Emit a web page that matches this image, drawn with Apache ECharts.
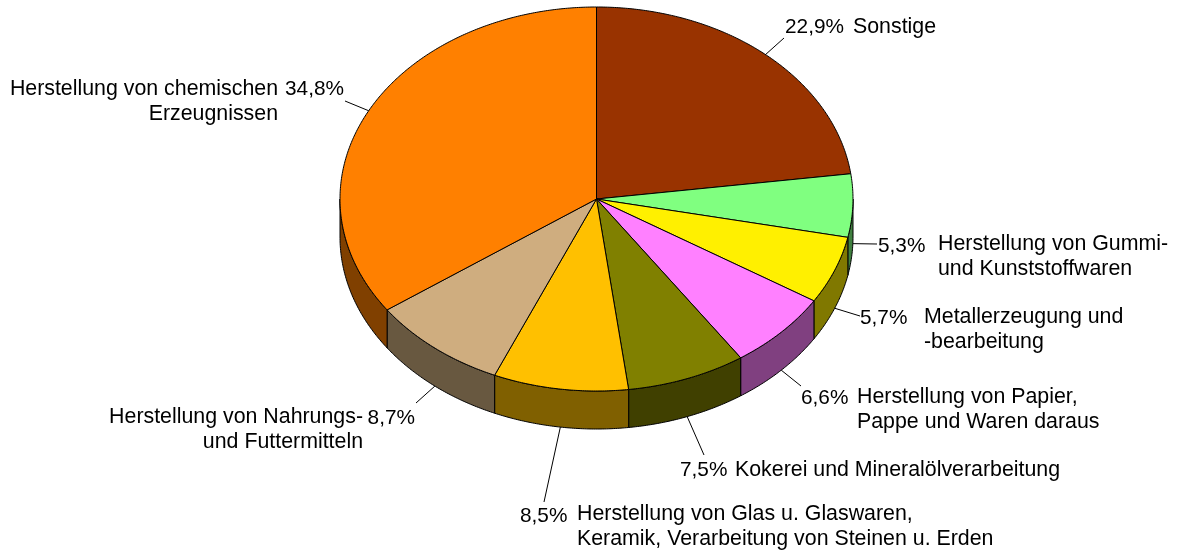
<!DOCTYPE html>
<html>
<head>
<meta charset="utf-8">
<style>html,body{margin:0;padding:0;background:#fff}#c{width:1177px;height:553px}</style>
<script src="https://cdn.jsdelivr.net/npm/echarts@6/dist/echarts.min.js"></script>
</head>
<body>
<div id="c"></div>
<script>
// Data, clockwise from 12 o'clock
const categories = [
  ['Sonstige'],
  ['Herstellung von Gummi-', 'und Kunststoffwaren'],
  ['Metallerzeugung und', '-bearbeitung'],
  ['Herstellung von Papier,', 'Pappe und Waren daraus'],
  ['Kokerei und Mineralölverarbeitung'],
  ['Herstellung von Glas u. Glaswaren,', 'Keramik, Verarbeitung von Steinen u. Erden'],
  ['Herstellung von Nahrungs-', 'und Futtermitteln'],
  ['Herstellung von chemischen', 'Erzeugnissen']
];
const values = [22.9, 5.3, 5.7, 6.6, 7.5, 8.5, 8.7, 34.8];
const topColors = ['#993300', '#80FF80', '#FFF000', '#FF80FF', '#808000', '#FFC000', '#CFAD7F', '#FF8000'];
const sideColors = ['#4D1A00', '#408040', '#807800', '#804080', '#404000', '#806000', '#685840', '#804000'];

// Layout (label anchors, leader ends), separate from the values
const pie = { cx: 596.5, cy: 199, rx: 256.5, ry: 192, depth: 38 };
const leaderEnds = [[784, 38], [877, 244], [860, 316], [801, 386], [704, 455], [544, 502], [416, 403], [345, 101]];
const pctPos = [[785, 27, 'left'], [878, 246, 'left'], [860, 318, 'left'], [801, 398, 'left'], [680, 470, 'left'], [520, 516, 'left'], [415, 418, 'right'], [344, 89, 'right']];
const namePos = [[853, 27, 'left'], [938, 244, 'left'], [924, 317, 'left'], [857, 397, 'left'], [735, 470, 'left'], [577, 514, 'left'], [363, 417, 'right'], [278, 89, 'right']];
const lineStep = 25;
const family = '"Liberation Sans", Arial, sans-serif';
const nameFont = '21.35px ' + family;
const pctFont = '20.8px ' + family;

const total = values.reduce((a, b) => a + b, 0);
function pt(t, dy) {
  return [pie.cx + pie.rx * Math.sin(t), pie.cy - pie.ry * Math.cos(t) + (dy || 0)];
}
function arc(t0, t1, dy) {
  const n = Math.max(2, Math.ceil(Math.abs(t1 - t0) / (Math.PI / 360)));
  const out = [];
  for (let i = 0; i <= n; i++) out.push(pt(t0 + (t1 - t0) * i / n, dy));
  return out;
}

function renderItem(params, api) {
  const i = params.dataIndex;
  const v = api.value(0);
  let before = 0;
  for (let k = 0; k < i; k++) before += values[k];
  const t0 = before / total * 2 * Math.PI;
  const t1 = (before + v) / total * 2 * Math.PI;
  const mid = (t0 + t1) / 2;
  const children = [];
  const stroke = { stroke: '#000', lineWidth: 1, lineJoin: 'round' };

  // Side wall: only the front half of the disc shows
  const a = Math.max(t0, Math.PI / 2), b = Math.min(t1, Math.PI * 3 / 2);
  if (b > a) {
    children.push({
      type: 'polygon', z2: 1,
      shape: { points: arc(a, b, 0).concat(arc(b, a, pie.depth)) },
      style: Object.assign({ fill: sideColors[i] }, stroke)
    });
  }
  // Top face
  children.push({
    type: 'polygon', z2: 2,
    shape: { points: [[pie.cx, pie.cy]].concat(arc(t0, t1, 0)) },
    style: Object.assign({ fill: topColors[i] }, stroke)
  });
  // Leader line starts on the rim at the slice's middle angle
  const front = mid > Math.PI / 2 && mid < Math.PI * 3 / 2;
  children.push({
    type: 'line', z2: 3,
    shape: (function () {
      const s = pt(mid, front ? pie.depth : 0), e = leaderEnds[i];
      return { x1: s[0], y1: s[1], x2: e[0], y2: e[1] };
    })(),
    style: { stroke: '#000', lineWidth: 1 }
  });
  // Percent label
  const p = pctPos[i];
  children.push({
    type: 'text', z2: 4,
    style: { text: v.toFixed(1).replace('.', ',') + '%', x: p[0], y: p[1], fill: '#000', font: pctFont, align: p[2], verticalAlign: 'middle' }
  });
  // Category label
  const q = namePos[i];
  categories[i].forEach(function (line, j) {
    children.push({
      type: 'text', z2: 4,
      style: { text: line, x: q[0], y: q[1] + j * lineStep, fill: '#000', font: nameFont, align: q[2], verticalAlign: 'middle' }
    });
  });
  return { type: 'group', children: children };
}

const chart = echarts.init(document.getElementById('c'), null, { renderer: 'canvas' });
chart.setOption({
  animation: false,
  backgroundColor: '#fff',
  series: [{
    type: 'custom',
    coordinateSystem: 'none',
    renderItem: renderItem,
    data: values.map(v => [v]),
    silent: true
  }]
});
</script>
</body>
</html>
